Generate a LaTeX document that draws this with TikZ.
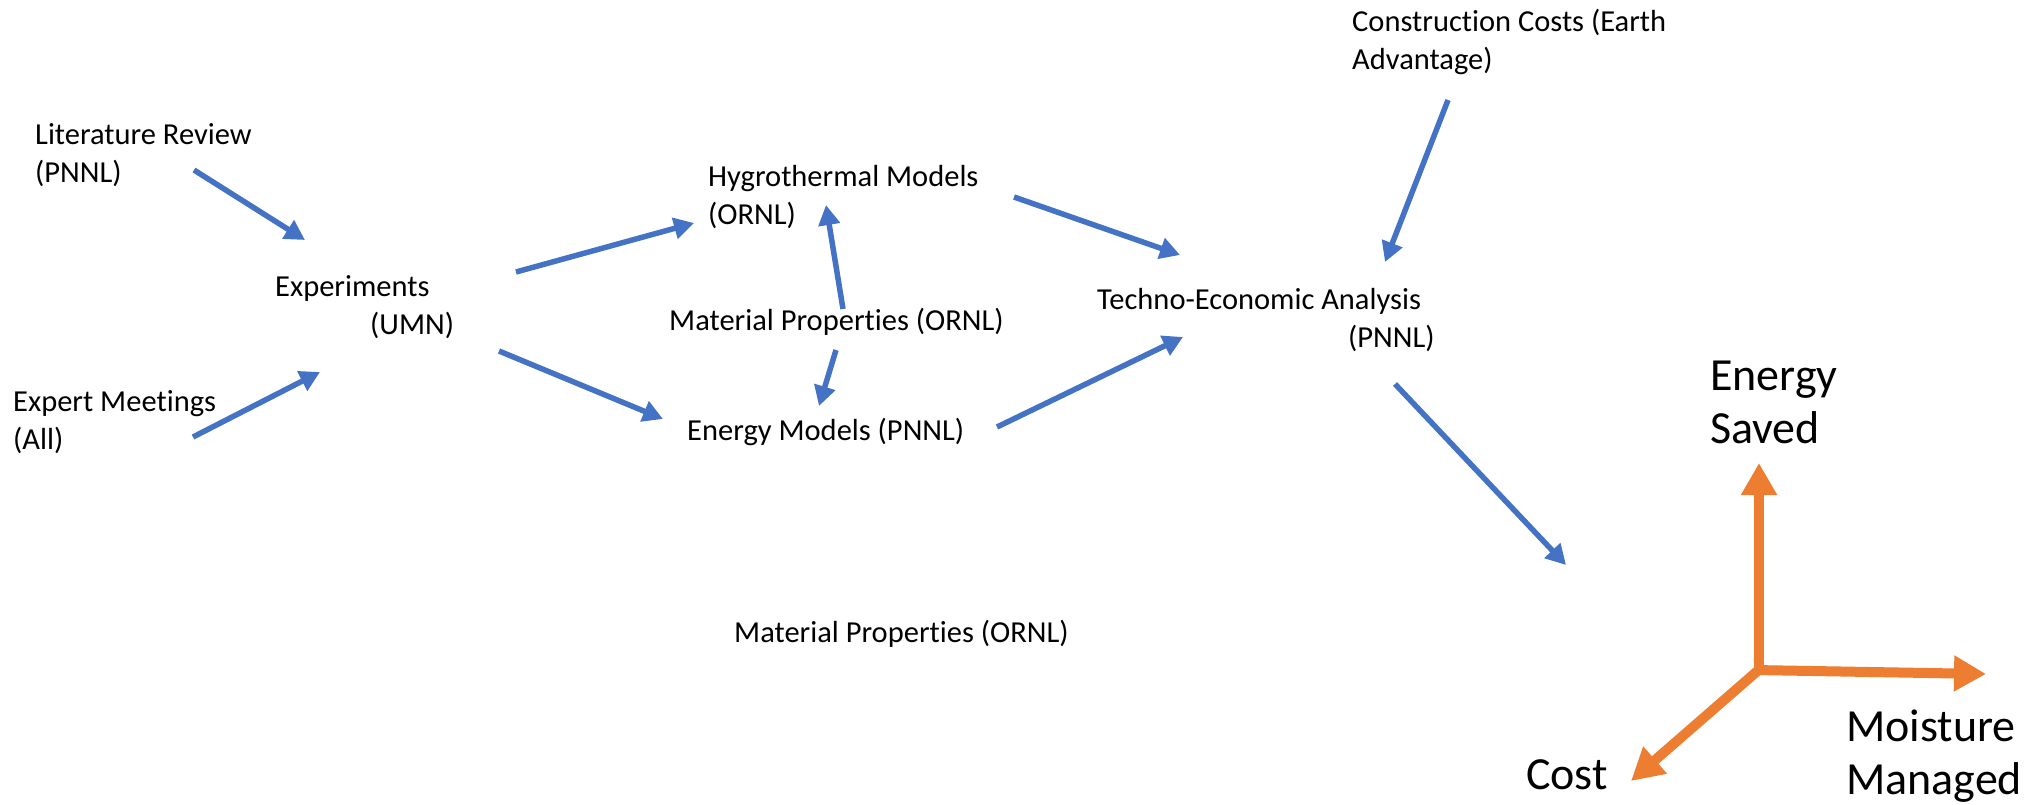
\documentclass[tikz,border=0pt]{standalone}
\usepackage{fontspec}
\setmainfont{Carlito}[RawFeature=-liga]
\usetikzlibrary{arrows.meta}

\definecolor{flowblue}{HTML}{4472C4}
\definecolor{axisorange}{HTML}{ED7D31}

\begin{document}
\begin{tikzpicture}[
    x=1pt, y=-1pt,
    label/.style={inner sep=0pt, anchor=west, align=left,
                  font=\fontsize{30.5}{38.5}\selectfont},
    biglabel/.style={inner sep=0pt, anchor=west, align=left,
                     font=\fontsize{46}{53}\selectfont},
    flow/.style={draw=flowblue, line width=5.5pt,
                 -{Triangle[length=20pt, width=21pt]}},
    axis/.style={draw=axisorange, line width=10pt,
                 -{Triangle[length=32pt, width=34pt]}}
]
\useasboundingbox (0,0) rectangle (2033,805);

% --- INPUTS ---
\node[label] (lit) at (35,155) {Literature Review\\(PNNL)};
\node[label] (experts) at (13,422) {Expert Meetings\\(All)};
\node[label] (exp) at (275,307) {Experiments\\\hspace*{95pt}(UMN)};

% --- MODELS ---
\node[label] (hygro) at (708,197) {Hygrothermal Models\\(ORNL)};
\node[label] (matprop) at (669,322) {Material Properties (ORNL)};
\node[label] (energymod) at (687,432) {Energy Models (PNNL)};
\node[label] (matprop2) at (734,634) {Material Properties (ORNL)};

% --- ANALYSIS ---
\node[label] (tea) at (1097,320) {Techno-Economic Analysis\\\hspace*{251pt}(PNNL)};
\node[label] (cc) at (1352,42) {Construction Costs (Earth\\Advantage)};
\coordinate (result) at (1566,565);

% flows
\draw[flow] ([shift={(159,15)}]lit.west) -- ([shift={(30,-67)}]exp.west);
\draw[flow] ([shift={(180,15)}]experts.west) -- ([shift={(45,65)}]exp.west);
\draw[flow] ([shift={(241,-35)}]exp.west) -- ([shift={(-14,26)}]hygro.west);
\draw[flow] ([shift={(224,44)}]exp.west) -- ([shift={(-24,-13)}]energymod.west);
\draw[flow] ([shift={(174,-13)}]matprop.west) -- ([shift={(118,8)}]hygro.west);
\draw[flow] ([shift={(167,28)}]matprop.west) -- ([shift={(132,-26)}]energymod.west);
\draw[flow] ([shift={(306,0)}]hygro.west) -- ([shift={(83,-65)}]tea.west);
\draw[flow] ([shift={(310,-5)}]energymod.west) -- ([shift={(86,17)}]tea.west);
\draw[flow] ([shift={(96,58)}]cc.west) -- ([shift={(288,-58)}]tea.west);
\draw[flow] ([shift={(298,64)}]tea.west) -- (result);

% --- OUTCOME AXES ---
\coordinate (origin) at (1759,670);
\coordinate (upend) at (1759,463);
\coordinate (rightend) at (1986,674);
\coordinate (costend) at (1631,781);
\node[biglabel] (esaved) at (1710,402) {Energy\\Saved};
\node[biglabel] (moisture) at (1846,756) {Moisture\\Managed};
\node[biglabel] (cost) at (1526,775) {Cost};

\draw[axis] ([yshift=-5pt]origin) -- (upend);
\draw[axis] ([xshift=-5pt]origin) -- (rightend);
\draw[axis] ([shift={(3,-3)}]origin) -- (costend);

\end{tikzpicture}
\end{document}
